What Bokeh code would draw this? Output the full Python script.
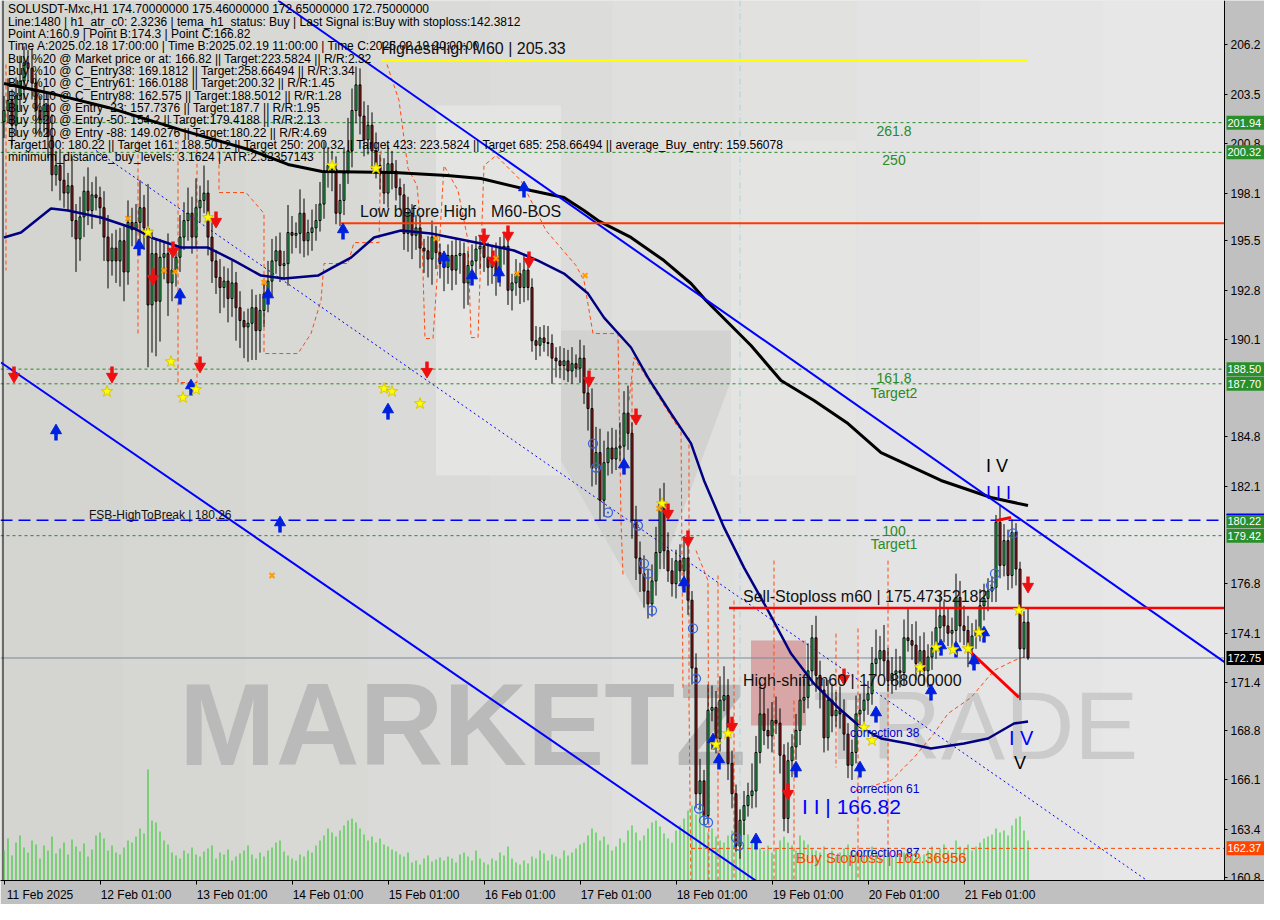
from bokeh.plotting import figure
from bokeh.models import FixedTicker, Range1d, Span, NumeralTickFormatter
from bokeh.core.properties import value
from bokeh.embed import file_html
from bokeh.resources import INLINE

# ---------------- data ----------------
first_open = 202.0
closes = [
    202.6, 203.15, 201.8, 203.4, 204.2, 205.2, 204.9, 204.1, 202.6, 202.1,
    202.9, 201.2, 199.1, 199.6, 198.8, 198.1, 198.5, 196.6, 195.6, 196.8,
    198.2, 197.15, 198.0, 197.85, 197.3, 195.7, 194.4, 195.1, 194.4, 195.5,
    193.8, 196.5, 196.1, 196.5, 197.3, 196.2, 192.0, 194.8, 192.2, 194.6,
    194.8, 193.2, 193.9, 194.6, 195.7, 196.6, 197.0, 195.7, 197.3, 197.7,
    198.1, 195.7, 194.4, 193.5, 192.95, 193.3, 192.35, 193.2, 191.85, 191.15,
    190.8, 191.0, 191.85, 190.6, 191.7, 192.6, 193.3, 194.4, 194.95, 194.15,
    194.25, 195.95, 195.8, 195.9, 197.0, 195.5, 195.95, 196.2, 196.6, 197.5,
    199.3, 199.6, 199.4, 197.0, 197.7, 199.2, 200.4, 202.6, 204.0, 202.3,
    201.0, 201.8, 200.4, 199.6, 199.2, 198.1, 199.7, 199.3, 198.4, 198.0,
    195.9, 197.0, 195.8, 196.2, 195.1, 194.95, 194.5, 195.7, 194.85, 194.25,
    194.05, 194.7, 193.9, 194.7, 194.8, 193.2, 194.15, 194.4, 195.05, 195.2,
    194.6, 194.05, 194.5, 193.7, 195.1, 195.2, 192.8, 193.2, 193.7, 192.95,
    193.9, 192.95, 190.05, 189.8, 190.2, 189.95, 189.9, 189.1, 188.95, 188.7,
    188.95, 188.4, 188.8, 188.55, 189.1, 187.2, 186.35, 183.1, 183.95, 181.35,
    183.4, 184.2, 183.6, 184.2, 184.3, 186.1, 185.0, 180.25, 178.2, 177.35,
    176.4, 175.7, 176.95, 178.5, 181.2, 178.6, 177.5, 176.8, 178.05, 177.5,
    178.2, 175.9, 172.2, 165.35, 166.05, 164.15, 169.9, 170.05, 168.35, 170.45,
    170.7, 167.0, 165.35, 162.5, 163.9, 164.7, 165.25, 165.5, 167.6, 169.7,
    168.8, 168.5, 169.35, 169.2, 167.45, 164.0, 167.15, 167.9, 168.8, 170.45,
    170.6, 172.05, 173.85, 171.8, 171.0, 168.4, 170.45, 169.6, 169.9, 169.7,
    168.6, 166.9, 167.6, 169.7, 169.9, 170.45, 170.8, 172.45, 172.7, 173.15,
    172.6, 171.5, 171.9, 172.05, 171.95, 173.85, 173.7, 173.45, 172.45, 173.15,
    172.05, 172.8, 173.3, 174.4, 175.05, 174.5, 174.1, 174.25, 176.05, 174.5,
    174.25, 173.25, 173.95, 174.25, 175.6, 176.0, 176.4, 176.6, 180.15, 177.8,
    179.15, 177.25, 179.6, 177.6, 173.25, 174.7, 172.75,
]
wick_up = [
    0.8, 1.2, 0.6, 1.0, 1.4, 0.9, 0.7, 1.1, 0.5, 0.8,
    1.0, 0.6, 1.2, 0.8, 0.9, 1.4, 0.7, 1.6, 0.9, 1.1,
    0.8, 1.3, 0.7, 1.0, 0.6, 0.9, 1.2, 0.8, 1.0, 0.7,
    0.9, 1.2, 0.8, 1.0, 1.5, 0.7, 2.4, 1.3, 0.8, 1.0,
    0.6, 1.1, 0.8, 0.7, 1.2, 1.0, 1.4, 0.9, 1.6, 0.8,
    1.5, 0.7, 0.9, 0.6, 1.0, 0.8, 0.7, 1.2, 0.6, 0.9,
    0.5, 0.8, 1.0, 0.7, 0.9, 0.6, 1.1, 1.2, 0.8, 1.0,
    0.7, 1.5, 0.9, 0.6, 1.3, 0.8, 0.7, 1.0, 0.9, 1.2,
    1.6, 1.0, 0.8, 0.7, 0.9, 1.4, 1.8, 1.2, 1.0, 0.9,
    0.8, 1.1, 0.7, 1.0, 0.6, 0.8, 1.0, 0.7, 0.6, 0.5,
    0.6, 0.9, 0.5, 0.7, 0.6, 0.5, 0.8, 0.9, 0.6, 0.5,
    0.7, 0.6, 0.8, 0.9, 0.7, 0.6, 0.8, 0.9, 0.7, 0.6,
    0.5, 0.8, 0.7, 0.9, 0.6, 0.8, 0.7, 0.5, 0.8, 0.6,
    0.9, 0.7, 0.5, 0.8, 0.6, 0.7, 0.9, 0.5, 0.6, 0.8,
    0.7, 0.6, 0.9, 0.5, 1.0, 0.7, 0.8, 1.1, 1.4, 1.3,
    1.2, 0.9, 1.1, 1.0, 1.3, 1.2, 1.5, 0.6, 0.8, 0.9,
    1.0, 1.2, 0.9, 1.4, 0.8, 1.1, 1.0, 0.7, 0.6, 0.9,
    1.2, 0.7, 0.5, 0.8, 1.2, 0.6, 1.4, 1.2, 0.9, 1.3,
    1.6, 0.9, 0.7, 0.5, 0.6, 0.8, 0.7, 1.5, 0.9, 1.7,
    1.4, 1.2, 1.0, 1.3, 0.8, 0.6, 1.0, 0.7, 0.9, 1.2,
    1.0, 1.5, 0.7, 1.2, 0.8, 0.6, 1.1, 0.9, 1.0, 1.3,
    0.8, 0.6, 0.7, 1.0, 0.9, 0.8, 0.7, 0.9, 1.6, 0.8,
    1.4, 0.7, 0.9, 1.2, 0.8, 1.0, 1.6, 0.9, 1.3, 0.8,
    1.0, 0.7, 0.9, 1.1, 1.2, 0.8, 1.0, 0.7, 1.3, 0.9,
    1.1, 0.8, 0.7, 0.6, 0.9, 0.8, 0.7, 0.6, 0.4, 0.9,
    0.9, 0.6, 0.7, 0.5, 0.4, 0.6, 0.76,
]
wick_dn = [
    0.9, 0.7, 1.1, 0.6, 0.8, 1.0, 0.7, 0.9, 1.3, 0.8,
    0.7, 1.2, 0.9, 0.6, 1.1, 0.8, 1.0, 0.9, 1.8, 1.2,
    1.1, 0.8, 1.0, 0.7, 0.9, 1.3, 1.5, 0.8, 1.2, 1.4,
    1.6, 0.7, 0.9, 0.8, 1.0, 1.2, 3.4, 2.6, 3.0, 2.2,
    1.2, 1.8, 1.0, 0.9, 0.8, 0.7, 1.1, 0.9, 0.6, 0.8,
    0.7, 1.0, 1.2, 0.9, 1.4, 1.1, 1.3, 1.0, 1.8, 1.5,
    1.7, 1.9, 2.0, 1.6, 1.2, 0.9, 1.0, 0.8, 0.7, 0.9,
    0.8, 1.2, 1.0, 0.7, 1.1, 0.9, 0.8, 1.0, 0.7, 0.6,
    0.8, 0.9, 1.2, 0.6, 0.7, 0.8, 0.6, 0.9, 0.7, 1.0,
    0.9, 0.8, 1.0, 0.7, 0.9, 0.6, 0.8, 1.0, 0.7, 0.8,
    0.9, 1.0, 1.3, 0.8, 1.1, 1.2, 1.0, 1.4, 0.9, 0.8,
    1.3, 0.9, 1.1, 0.8, 1.0, 1.4, 1.2, 0.9, 1.0, 1.1,
    0.8, 1.0, 0.9, 1.2, 0.7, 0.9, 0.8, 1.1, 0.7, 0.9,
    0.8, 0.7, 0.6, 0.8, 0.6, 0.5, 0.7, 1.4, 0.9, 0.7,
    0.8, 0.6, 0.7, 0.5, 0.8, 0.6, 1.2, 1.0, 0.9, 1.1,
    0.9, 0.7, 0.8, 0.6, 0.7, 0.8, 0.9, 1.0, 1.2, 1.0,
    0.9, 0.8, 0.7, 0.8, 0.9, 1.0, 0.6, 0.7, 0.8, 0.6,
    0.7, 0.8, 0.9, 0.8, 0.9, 0.5, 0.4, 0.6, 0.8, 0.7,
    0.6, 0.9, 0.8, 0.3, 0.7, 0.8, 0.6, 0.7, 0.9, 0.6,
    0.8, 0.7, 0.9, 0.6, 1.0, 0.7, 0.8, 0.9, 0.7, 0.8,
    0.7, 0.6, 0.8, 0.9, 1.0, 0.8, 0.7, 0.9, 0.6, 0.8,
    0.9, 0.7, 0.8, 0.6, 0.7, 0.9, 0.8, 0.6, 0.7, 0.9,
    0.8, 0.6, 0.7, 0.9, 0.8, 0.7, 0.6, 0.8, 0.9, 0.7,
    0.8, 0.9, 0.7, 0.6, 0.8, 0.9, 0.7, 0.8, 0.6, 0.9,
    0.8, 1.0, 0.9, 0.7, 0.6, 0.8, 0.7, 0.6, 0.8, 0.7,
    0.6, 0.8, 0.7, 0.9, 2.8, 0.5, 0.1,
]
volumes = [
    30, 42, 25, 38, 45, 33, 28, 40, 36, 22,
    35, 30, 44, 27, 32, 38, 26, 41, 34, 29,
    37, 24, 31, 45, 48, 42, 30, 35, 28, 26,
    33, 40, 38, 44, 52, 47, 111, 60, 58, 49,
    40, 36, 28, 25, 22, 30, 27, 33, 26, 24,
    29, 32, 35, 22, 28, 26, 31, 20, 24, 27,
    30, 35, 26, 22, 28, 24, 30, 33, 38, 40,
    29, 25, 22, 20, 26, 24, 30, 28, 35, 40,
    45, 52, 48, 44, 50, 55, 60, 62, 58, 52,
    46, 40, 44, 38, 42, 36, 34, 31, 29, 26,
    24, 28, 18, 20, 16, 22, 25, 19, 21, 23,
    20, 24, 22, 18, 26, 28, 24, 20, 30, 22,
    18, 16, 22, 20, 28, 25, 34, 22, 18, 16,
    20, 17, 24, 22, 30, 27, 20, 26, 24, 22,
    30, 25, 28, 32, 36, 38, 45, 52, 48, 40,
    44, 36, 30, 34, 42, 38, 50, 55, 48, 40,
    45, 52, 58, 60, 54, 47, 42, 38, 50, 55,
    62, 70, 75, 66, 80, 58, 48, 52, 44, 40,
    38, 45, 50, 62, 70, 58, 46, 40, 36, 32,
    30, 35, 28, 32, 40, 44, 38, 35, 30, 45,
    40, 36, 32, 30, 28, 34, 26, 30, 24, 28,
    32, 36, 30, 28, 26, 24, 30, 34, 28, 26,
    30, 28, 24, 26, 22, 28, 32, 26, 30, 24,
    26, 30, 34, 28, 32, 36, 30, 28, 40, 34,
    32, 36, 30, 34, 38, 42, 44, 46, 52, 48,
    50, 45, 55, 62, 64, 50, 40,
]

day_label_bars = [9, 33, 57, 81, 105, 129, 153, 177, 201, 225, 249]
day_tick_bars = [0, 24, 48, 72, 96, 120, 144, 168, 192, 216, 240]
day_labels = ["11 Feb 2025", "12 Feb 01:00", "13 Feb 01:00", "14 Feb 01:00",
              "15 Feb 01:00", "16 Feb 01:00", "17 Feb 01:00", "18 Feb 01:00",
              "19 Feb 01:00", "20 Feb 01:00", "21 Feb 01:00"]
# visible price-scale ticks (187.4 and 179.4 lie under the level boxes)
price_ticks = [206.2, 203.5, 200.8, 198.1, 195.5, 192.8, 190.1, 184.8,
               182.1, 176.8, 174.1, 171.4, 168.8, 166.1, 163.4, 160.8]

# slow moving average (black) and fast moving average (navy)
ma_slow_bars = [0, 13, 26, 44, 62, 71, 79.5, 97.5, 110.75, 119.25, 131.75, 140, 145, 148.5,
                156.75, 165, 171.75, 175.5, 186.75, 194.25, 202.5, 211, 219.25, 234.25, 246.75, 256]
ma_slow_vals = [204.07, 203.47, 202.77, 201.56, 200.42, 199.66, 199.28, 199.22, 199.06, 198.89,
                198.24, 197.86, 197.15, 196.6, 195.68, 194.42, 193.17, 192.24, 189.79, 187.88,
                186.79, 185.53, 183.95, 182.43, 181.5, 181.06]
ma_fast_bars = [0, 4.25, 11.75, 16, 24.25, 32.5, 37.5, 44.25, 51, 57.5, 64.25, 70, 78.5, 81.75,
                86.75, 92.5, 99.25, 106.75, 119.25, 127.5, 133.5, 140, 146, 150, 156.75, 161,
                166.75, 171.75, 175, 180, 185, 191, 196.75, 202.5, 208.5, 214.25, 219.25, 226,
                231.75, 240, 246, 252.5, 256]
ma_fast_vals = [195.68, 195.95, 197.26, 197.15, 196.77, 196.17, 195.62, 195.13, 195.13, 194.42,
                193.6, 193.44, 193.6, 193.99, 194.58, 195.68, 196.06, 195.9, 195.35, 194.97,
                194.42, 193.71, 192.62, 191.31, 189.68, 188.04, 186.08, 184.45, 182.43, 179.87,
                177.68, 175.34, 172.99, 171.35, 170.05, 168.96, 168.36, 168.09, 167.81, 168.09,
                168.36, 169.18, 169.29]

# channel / trend lines (bar, price end points)
upper_channel_bars = [68.5, 309.25]
upper_channel_prices = [208.6, 171.9]
lower_channel_bars = [-0.75, 193.75]
lower_channel_prices = [188.86, 159.74]
mid_dotted_bars = [23, 290.5]
mid_dotted_prices = [200.42, 159.9]
red_trend_bars = [241.25, 253.75]
red_trend_prices = [173.16, 170.6]
peak_red_bars = [248, 251.75]
peak_red_prices = [180.24, 180.41]

# levels
highest_high = 205.33
highest_high_from = 94.25
highest_high_to = 256
bos_level = 196.46
bos_from = 83.75
sell_stoploss = 175.47352182
sell_stoploss_from = 181.25
buy_stoploss = 162.36956
buy_stoploss_from = 171.75
fib_levels = [201.94, 200.32, 188.50, 187.70, 179.42]
fsb_high = 180.26
last_price = 172.75
time_b_bar = 184

# price boxes on the right scale
box_prices = [201.94, 200.32, 188.50, 187.70, 180.22, 179.42, 172.75, 162.37]
box_texts = ["201.94", "200.32", "188.50", "187.70", "180.22", "179.42", "172.75", "162.37"]
box_colors = ["#2a8f2a", "#2a8f2a", "#2a8f2a", "#2a8f2a", "#2a8f2a", "#2a8f2a", "#000000", "#ff4500"]

# ATR step bands (dashed orange)
band_bars = [
    [0.5, 0.5],
    [33.5, 33.5],
    [43.5, 43.5, 48.25, 48.25],
    [53.75, 53.75, 60.5, 65, 65, 73.5, 76.75, 79.25, 80, 86, 87.5, 93.75, 94.25],
    [95.75, 98.75, 101, 103.25, 104.5, 105.25, 107.25, 108.75, 110, 113.5, 116, 116.75, 118.5,
     119.25, 120, 123, 129.25, 135.5, 143, 145, 147.25, 153.5, 154.25, 154.75],
    [156.25, 157.5, 168.5, 169.25, 169.75],
    [157, 157],
    [171.25, 171.25, 171.75],
    [173, 176, 176.25],
    [178.5, 178.5],
    [182.5, 182.5],
    [192.5, 192.5],
    [197.5, 197.5],
    [208, 208],
    [213.5, 213.5],
    [221, 221],
    [213, 221.75, 227.5, 232.5, 236, 241.75, 247.5, 252.5, 256],
]
band_prices = [
    [205.11, 193.88],
    [200.97, 190.44],
    [200.97, 187.77, 187.77, 200.97],
    [200.42, 198.13, 198.13, 196.99, 189.35, 189.35, 190.44, 192.24, 194.26, 194.26, 195.4, 195.4, 200.42],
    [205.11, 203.15, 199.44, 198.51, 195.51, 190.17, 190.17, 194.97, 199.6, 198.24, 195.51, 190.22, 190.22,
     194.97, 199.6, 200.15, 198.78, 196.06, 194.15, 193.33, 190.44, 190.44, 180.24, 177.25],
    [186.79, 189.13, 185.32, 185.32, 170.97],
    [187.88, 180.41],
    [184.77, 170.43, 160.07],
    [178.61, 176.97, 160.34],
    [177.25, 160.07],
    [175.88, 160.07],
    [178.06, 160.07],
    [170.43, 160.07],
    [174.08, 166.78],
    [174.36, 160.07],
    [178.06, 162.09],
    [165.52, 166.07, 167.32, 168.63, 169.72, 170.59, 172.07, 172.61, 172.88],
]

# signal markers
sell_arrow_bars = [2.5, 27, 49, 53, 42.25, 37.25, 105.75, 120, 126, 131.25, 122.25, 146.25, 158, 166,
                   171, 182, 196, 256, 210]
sell_arrow_prices = [188.26, 188.26, 188.81, 196.71, 195.08, 193.6, 188.53, 195.79, 195.95, 194.53,
                     194.59, 188.04, 185.97, 180.79, 179.32, 169.17, 165.52, 176.81, 171.79]
buy_arrow_bars = [13, 33.75, 44, 66, 84.75, 96, 46.75, 110, 117, 123.75, 130, 155, 170, 177.25,
                  178.75, 188, 198, 214, 218, 231.75, 234.25, 238, 242.5, 245, 69]
buy_arrow_prices = [184.99, 195.08, 192.4, 192.4, 195.95, 186.13, 187.44, 194.42, 193.44, 193.6,
                    198.24, 183.13, 176.7, 168.14, 167.05, 162.69, 166.61, 166.61, 169.61, 170.81,
                    173.26, 173.16, 172.45, 173.97, 179.97]
star_bars = [25.75, 41.75, 44.75, 48, 95, 97, 104, 36, 51, 82, 93, 178, 181, 215, 217, 229, 233,
             237.25, 241, 243.75, 253.75, 164.5]
star_prices = [187.28, 188.91, 186.95, 187.39, 187.44, 187.28, 186.62, 195.95, 196.77, 199.6, 199.44,
               168.03, 168.63, 168.96, 168.25, 172.23, 173.32, 173.21, 173.26, 174.14, 175.34, 181.17]
circle_bars = [147.25, 148, 151, 158.5, 160, 161, 162, 172.25, 173, 173.75, 175, 176, 183, 183.75,
               246.75, 247.75, 252.25]
circle_prices = [184.44, 183.13, 180.68, 179.97, 177.9, 177.35, 175.34, 174.36, 171.63, 164.54, 163.89,
                 163.78, 162.96, 162.52, 176.7, 177.35, 179.54]
cross_bars = [31, 40, 42.75, 65, 67, 108, 123, 128.25, 145.25, 163.75]
cross_prices = [196.71, 193.88, 193.82, 193.22, 177.25, 195.62, 194.53, 193.71, 193.6, 180.9]

info_lines = [
    "SOLUSDT-Mxc,H1  174.70000000 175.46000000 172.65000000 172.75000000",
    "Line:1480 | h1_atr_c0: 2.3236 | tema_h1_status: Buy | Last Signal is:Buy with stoploss:142.3812",
    "Point A:160.9 | Point B:174.3 | Point C:166.82",
    "Time A:2025.02.18 17:00:00 | Time B:2025.02.19 11:00:00 | Time C:2025.02.19 20:00:00",
    "Buy %20 @ Market price or at: 166.82 || Target:223.5824 || R/R:2.32",
    "Buy %10 @ C_Entry38: 169.1812 || Target:258.66494 || R/R:3.34",
    "Buy %10 @ C_Entry61: 166.0188 || Target:200.32 || R/R:1.45",
    "Buy %10 @ C_Entry88: 162.575 || Target:188.5012 || R/R:1.28",
    "Buy %10 @ Entry -23: 157.7376 || Target:187.7 || R/R:1.95",
    "Buy %20 @ Entry -50: 154.2 || Target:179.4188 || R/R:2.13",
    "Buy %20 @ Entry -88: 149.0276 || Target:180.22 || R/R:4.69",
    "Target100: 180.22 || Target 161: 188.5012 || Target 250: 200.32 || Target 423: 223.5824 || Target 685: 258.66494 || average_Buy_entry: 159.56078",
    "minimum_distance_buy_levels: 3.1624 | ATR:2.32357143",
]

# ---------------- derived candle geometry ----------------
opens = [first_open] + closes[:-1]
highs = [max(o, c) + u for o, c, u in zip(opens, closes, wick_up)]
lows = [min(o, c) - d for o, c, d in zip(opens, closes, wick_dn)]
bars = list(range(len(closes)))
body_top = [max(o, c) for o, c in zip(opens, closes)]
body_bot = [min(o, c) for o, c in zip(opens, closes)]
body_col = ["#2fd060" if c >= o else "#b01e1e" for o, c in zip(opens, closes)]

# ---------------- figure ----------------
W, H = 1264, 904
AXIS_PX = 1224          # where the price scale starts
FRAME_H = 880
BAR_PX = 4.0
PX_PER_PRICE = 18.34
X0 = -0.875             # bar centres fall on pixel centres
X1 = X0 + W / BAR_PX
AXIS_X = X0 + AXIS_PX / BAR_PX
YTOP = 208.6
YBOT = YTOP - FRAME_H / PX_PER_PRICE
PX = 1.0 / PX_PER_PRICE      # one pixel in price units
PXX = 1.0 / BAR_PX           # one pixel in bar units

p = figure(width=W, height=H, x_range=Range1d(X0, X1), y_range=Range1d(YBOT, YTOP),
           y_axis_location="right", output_backend="svg", toolbar_location=None,
           min_border_left=0, min_border_top=0, min_border_right=0,
           min_border_bottom=H - FRAME_H, background_fill_color="#dcdcd9",
           border_fill_color="#c0c0c0", outline_line_color=None)
p.grid.visible = False

FONT = "Liberation Sans"
p.xaxis.ticker = FixedTicker(ticks=day_label_bars, minor_ticks=day_tick_bars)
p.xaxis.major_label_overrides = {b: l for b, l in zip(day_label_bars, day_labels)}
p.xaxis.major_tick_out = 0
p.xaxis.major_tick_in = 0
p.xaxis.minor_tick_out = 4
p.xaxis.minor_tick_in = 0
p.xaxis.minor_tick_line_color = "black"
p.xaxis.major_label_standoff = 3
p.yaxis.fixed_location = AXIS_X
p.yaxis.ticker = FixedTicker(ticks=price_ticks, minor_ticks=[])
p.yaxis.formatter = NumeralTickFormatter(format="0.0")
p.yaxis.major_tick_out = 3
p.yaxis.major_tick_in = 0
p.yaxis.major_label_standoff = 3
for ax in (p.xaxis[0], p.yaxis[0]):
    ax.major_label_text_font = FONT
    ax.major_label_text_font_size = "12px"
    ax.major_label_text_color = "black"
    ax.axis_line_color = "black"
    ax.major_tick_line_color = "black"

# background shading
shade = ["#d4d4d0", "#d6d6d3", "#d8d8d5", "#dadad8", "#dcdcdb", "#dfdfde", "#e1e1e0",
         "#e3e3e3", "#e5e5e5", "#e7e7e7"]
n = len(shade)
step = (AXIS_X - X0) / n
r = p.quad(left=[X0 + k * step for k in range(n)], right=[X0 + (k + 1) * step + 0.3 for k in range(n)],
           bottom=YBOT, top=YTOP, fill_color=shade, line_color=None)
r.level = "image"

# logo watermark (light pillars and lower V)
lg1 = p.quad(left=[108, 181.75], right=[139.25, 213], top=[202.87, 200.97], bottom=[182.7, 182.7],
             fill_color="#e4e4e3", line_color=None)
lg1.level = "image"
lg2 = p.patch([139.25, 181.75, 181.75, 160.5, 139.25],
              [190.6, 190.6, 187.88, 175.34, 183.52],
              fill_color="#d2d2d0", line_color=None)
lg2.level = "image"

# text watermark
wm = p.text(x=[43.75], y=[169.07], text=["MARKETZ"], text_font=value(FONT),
            text_font_style=value("bold"), text_font_size=value("116px"),
            text_color="#bababa", text_baseline="alphabetic", text_align="left")
wm.level = "image"
wq = p.quad(left=[186.75], right=[200.5], top=[173.7], bottom=[169.07],
            fill_color="#d8a6a6", line_color=None)
wq.level = "image"
wt = p.text(x=[202.25], y=[169.07], text=["TRADE"], text_font=value(FONT),
            text_font_size=value("96px"), text_color="#cbcbcb",
            text_baseline="alphabetic", text_align="left")
wt.level = "image"

# volumes
vol_range_name = "vol"
p.extra_y_ranges = {vol_range_name: Range1d(0, FRAME_H)}
p.segment(x0=bars, y0=[0] * len(bars), x1=bars, y1=volumes, line_color="#1ec81e",
          line_width=1, y_range_name=vol_range_name)

# horizontal levels
for lv in fib_levels:
    p.add_layout(Span(location=lv, dimension="width", line_color="#2a8a2a", line_dash="3 3",
                      line_width=1, level="underlay"))
p.add_layout(Span(location=fsb_high, dimension="width", line_color="#0000ff", line_dash="12 6",
                  line_width=1.5, level="underlay"))
p.add_layout(Span(location=last_price, dimension="width", line_color="#7a8a9a",
                  line_width=1, level="underlay"))
p.add_layout(Span(location=time_b_bar, dimension="height", line_color="#a8d4e0",
                  line_dash="6 3 1 3", line_width=1, level="underlay"))
p.add_layout(Span(location=X0 + 2.5 * PXX, dimension="height", line_color="black",
                  line_width=1, level="underlay"))

# ATR bands
p.multi_line(xs=band_bars, ys=band_prices, line_color="#ff4a10", line_dash="4 3", line_width=1)

# dotted mid channel
p.line(mid_dotted_bars, mid_dotted_prices, line_color="#0000ff", line_dash="2 3", line_width=1)

# candles
p.segment(x0=bars, y0=highs, x1=bars, y1=lows, line_color="black", line_width=1)
p.vbar(x=bars, width=0.5, top=body_top, bottom=body_bot, fill_color=body_col,
       line_color="black", line_width=1)

# moving averages
p.line(ma_fast_bars, ma_fast_vals, line_color="#000080", line_width=2.5)
p.line(ma_slow_bars, ma_slow_vals, line_color="black", line_width=3)

# channels and levels
p.line(upper_channel_bars, upper_channel_prices, line_color="#0000ff", line_width=2)
p.line(lower_channel_bars, lower_channel_prices, line_color="#0000ff", line_width=2)
p.line([highest_high_from, highest_high_to], [highest_high, highest_high], line_color="#ffff00",
       line_width=2)
p.line([bos_from, AXIS_X], [bos_level, bos_level], line_color="#ff3a00", line_width=2)
p.line([sell_stoploss_from, AXIS_X], [sell_stoploss, sell_stoploss], line_color="#ff0000",
       line_width=2.5)
p.line([buy_stoploss_from, AXIS_X], [buy_stoploss, buy_stoploss], line_color="#ff4500",
       line_dash="4 3", line_width=1)
p.line(red_trend_bars, red_trend_prices, line_color="#ff0000", line_width=3)
p.line(peak_red_bars, peak_red_prices, line_color="#ff0000", line_width=3)

# markers
p.segment(x0=buy_arrow_bars, y0=[v - 7 * PX for v in buy_arrow_prices], x1=buy_arrow_bars,
          y1=[v + 1 * PX for v in buy_arrow_prices], line_color="#0020e0", line_width=3.5)
p.scatter(buy_arrow_bars, [v + 3 * PX for v in buy_arrow_prices], marker="triangle", size=11,
          fill_color="#0020e0", line_color="#0020e0")
p.segment(x0=sell_arrow_bars, y0=[v + 7 * PX for v in sell_arrow_prices], x1=sell_arrow_bars,
          y1=[v - 1 * PX for v in sell_arrow_prices], line_color="#ee1010", line_width=3.5)
p.scatter(sell_arrow_bars, [v - 3 * PX for v in sell_arrow_prices], marker="inverted_triangle",
          size=11, fill_color="#ee1010", line_color="#ee1010")
p.scatter(star_bars, star_prices, marker="star", size=12, fill_color="#ffff00", line_color="#d8c800")
p.scatter(circle_bars, circle_prices, marker="circle_dot", size=9, fill_color=None,
          line_color="#3a66dd", line_width=1.3)
p.scatter(cross_bars, cross_prices, marker="x", size=7, line_color="#ff9a00", line_width=2)

# text
def txt(x, y, s, size, color="black", align="left", style="normal"):
    return p.text(x=[x], y=[y], text=[s], text_font=value(FONT), text_font_size=value(size),
                  text_color=color, text_align=align, text_baseline="middle",
                  text_font_style=value(style))

info_top = 208.11
info_step = 0.6725
for k, s in enumerate(info_lines):
    txt(1.0, info_top - k * info_step, s, "12px")

txt(94.25, 205.98, "HighestHigh   M60 | 205.33", "16px", "#111111")
txt(89.0, 197.09, "Low before High", "16px", "#111111")
txt(121.75, 197.09, "M60-BOS", "16px", "#111111")
txt(184.75, 176.1, "Sell-Stoploss m60 | 175.47352182", "16px", "#111111")
txt(184.75, 171.52, "High-shift m60 | 170.88000000", "16px", "#111111")
txt(199.5, 164.65, "I I | 166.82", "21px", "#0000ff")
txt(211.5, 168.68, "correction 38", "12px", "#0000d0")
txt(211.5, 165.58, "correction 61", "12px", "#0000d0")
txt(211.5, 162.14, "correction 87", "12px", "#0000d0")
txt(198.0, 161.87, "Buy Stoploss | 162.36956", "15px", "#ff4500")
txt(245.5, 183.24, "I V", "18px", "#000000")
txt(245.5, 181.77, "I I I", "18px", "#0000ff")
txt(251.25, 168.41, "I V", "20px", "#0000ff")
txt(252.5, 167.0, "V", "18px", "#000000")
txt(21.25, 180.57, "FSB-HighToBreak | 180.26", "12px", "#111111")
for s, y in [("261.8", 201.46), ("250", 199.88), ("161.8", 187.99), ("Target2", 187.22),
             ("100", 179.7), ("Target1", 178.94)]:
    txt(222.5, y, s, "14px", "#2a8a2a", align="center")

# price-scale panel (right of the axis line)
p.quad(left=[AXIS_X], right=[X1], bottom=[YBOT], top=[YTOP], fill_color="#c0c0c0",
       line_color=None)
bx = p.quad(left=[AXIS_X + 2 * PXX] * len(box_prices), right=[X1] * len(box_prices),
            top=[v + 7 * PX for v in box_prices], bottom=[v - 7 * PX for v in box_prices],
            fill_color=box_colors, line_color=None)
bx.level = "annotation"
bt = p.text(x=[AXIS_X + 3 * PXX] * len(box_prices), y=box_prices, text=box_texts,
            text_font=value(FONT), text_font_size=value("11px"), text_color="white",
            text_align="left", text_baseline="middle")
bt.level = "annotation"
fl = p.line([AXIS_X + 2 * PXX, X1], [fsb_high + 6 * PX, fsb_high + 6 * PX], line_color="#0000ff",
            line_width=1.5)
fl.level = "annotation"

open("out.html", "w").write(file_html(p, INLINE))
